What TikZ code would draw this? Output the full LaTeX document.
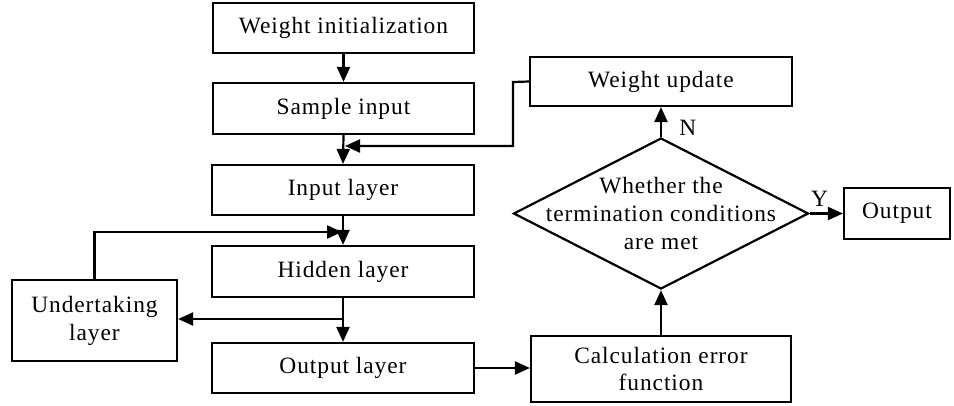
\documentclass[tikz,border=0pt]{standalone}
\usepackage{fontspec}
\setmainfont{Liberation Serif}[LetterSpace=4]
\usetikzlibrary{arrows.meta,shapes.geometric}
\begin{document}
\begin{tikzpicture}[x=1bp,y=-1bp,
  every node/.style={font=\fontsize{23.5}{28}\selectfont},
  box/.style={draw,line width=2.2bp,rectangle,inner sep=0pt,align=center},
  decision/.style={draw,line width=2.2bp,diamond,inner sep=0pt,
    minimum width=295bp,minimum height=151bp},
  arr/.style={line width=2.2bp,-{Triangle[length=15bp,width=13bp]}}]
\useasboundingbox (0,0) rectangle (954,405);

% main column
\node[box,minimum width=261bp,minimum height=50bp] (winit) at (343.5,28) {Weight initialization};
\node[box,minimum width=261bp,minimum height=51bp] (sample) at (343.5,108.5) {Sample input};
\node[box,minimum width=262bp,minimum height=50bp] (input) at (343,190) {Input layer};
\node[box,minimum width=262bp,minimum height=51bp] (hidden) at (343,271.5) {Hidden layer};
\node[box,minimum width=262bp,minimum height=50bp] (outl) at (343,368) {Output layer};
\node[box,minimum width=165bp,minimum height=81bp] (under) at (94.5,320.5) {Undertaking\\layer};

% right part
\node[box,minimum width=262bp,minimum height=49bp] (wupd) at (661,81.5) {Weight update};
\node[decision] (dia) at (661,213.5) {};
\node[align=center] (diatext) at (dia.center) {Whether the\\termination conditions\\are met};
\node[box,minimum width=106bp,minimum height=51bp] (outp) at (897,213.5) {Output};
\node[box,minimum width=260bp,minimum height=66bp] (calc) at (661,369) {Calculation error\\function};

% junction points
\coordinate (j1) at (345,146);
\coordinate (j2) at (342,232);
\coordinate (j3) at (343,319);

% connectors
\draw[arr] (winit.south) -- (sample.north);
\draw[arr] (sample.south) -- (input.north);
\draw[arr] (wupd.west) -- (513,82) -- (513,146) -- (j1);
\draw[arr] (input.south) -- (hidden.north);
\draw[arr] (under.north) |- (j2);
\draw[arr] (hidden.south) -- (outl.north);
\draw[arr] (j3) -- (j3 -| under.east);
\draw[arr] (outl.east) -- (calc.west |- outl.east);
\draw[arr] (calc.north) -- (dia.south);
\draw[arr] (dia.north) -- node[right=14bp,pos=0.3] (nlab) {N} (wupd.south);
\draw[arr] (dia.east) -- node[above=3bp,pos=0.3] (ylab) {Y} (outp.west);
\end{tikzpicture}
\end{document}
